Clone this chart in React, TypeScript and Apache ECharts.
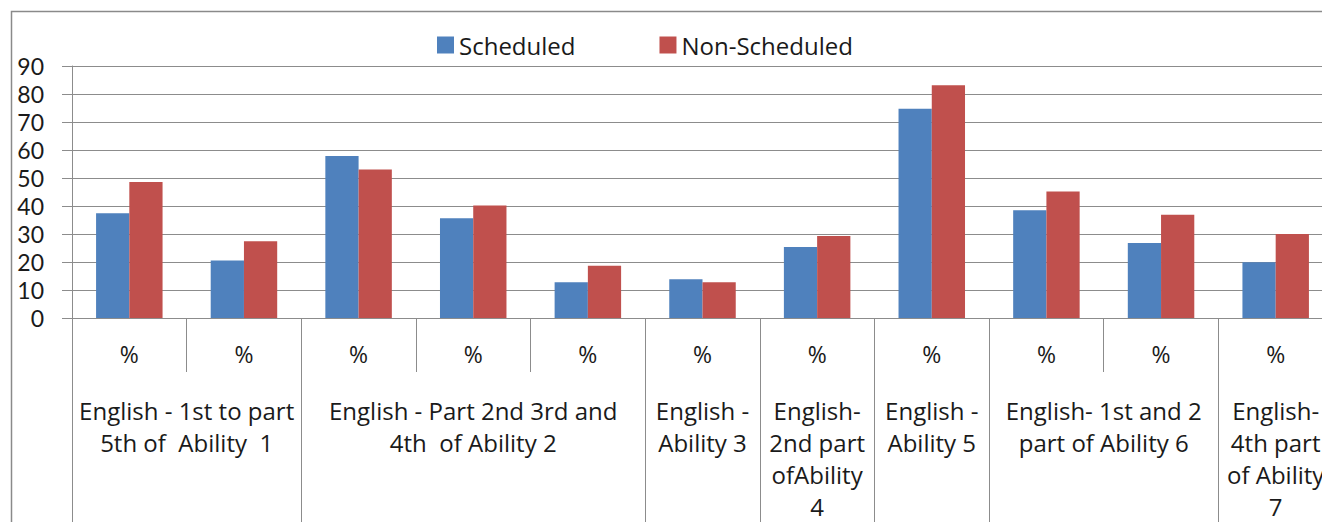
import React, { useEffect, useRef } from "react";
import * as echarts from "echarts";

const categories = ["%", "%", "%", "%", "%", "%", "%", "%", "%", "%", "%"];
const scheduled = [37.4, 20.5, 57.9, 35.6, 12.8, 13.8, 25.4, 74.7, 38.5, 26.8, 19.9];
const nonScheduled = [48.6, 27.4, 53.0, 40.2, 18.7, 12.8, 29.3, 83.1, 45.2, 36.9, 30.0];
const groupLabels = [
  "English - 1st to part\n5th of  Ability  1",
  "English - Part 2nd 3rd and\n4th  of Ability 2",
  "English -\nAbility 3",
  "English-\n2nd part\nofAbility\n4",
  "English -\nAbility 5",
  "English- 1st and 2\npart of Ability 6",
  "English-\n4th part\nof Ability\n7",
];
const groupSpans = [2, 3, 1, 1, 1, 2, 1];
const yTicks = { min: 0, max: 90, interval: 10 };

const FONT = "Open Sans";
const GRAY = "#8c8c8c";
const TEXT = "#1a1a1a";

// Build a half-category slot axis (2 slots per category, boundaryGap false)
const slotCount = categories.length * 2 + 1;
const slotLabels: string[] = new Array(slotCount).fill("");
const boundarySlots = new Set<number>([0]);
{
  let start = 0;
  groupSpans.forEach((span, i) => {
    const center = start * 2 + span;
    slotLabels[center] = groupLabels[i];
    start += span;
    boundarySlots.add(start * 2);
  });
}
const slotKeys = slotLabels.map((_l, i) => "s" + i);

export default function App() {
  const ref = useRef<HTMLDivElement>(null);
  useEffect(() => {
    if (!ref.current) return;
    const chart = echarts.init(ref.current, null, { renderer: "svg" });
    chart.setOption({
      animation: false,
      backgroundColor: "#ffffff",
      textStyle: { fontFamily: FONT },
      legend: {
        top: 28,
        left: 432,
        itemWidth: 17,
        itemHeight: 17,
        itemGap: 84,
        icon: "rect",
        textStyle: { fontFamily: FONT, fontSize: 24, color: TEXT },
        data: ["Scheduled", "Non-Scheduled"],
      },
      graphic: [
        {
          type: "rect",
          z: -10,
          shape: { x: 11.5, y: 11.5, width: 2000, height: 2000 },
          style: { fill: "none", stroke: "#8a8a8a", lineWidth: 1.5 },
        },
      ],
      grid: {
        left: 72,
        top: 66,
        right: -11,
        bottom: 204,
        containLabel: false,
        outerBoundsMode: "none",
      },
      xAxis: [
        {
          type: "category",
          data: categories,
          position: "bottom",
          axisLine: { show: true, lineStyle: { color: GRAY, width: 1 } },
          axisTick: { show: true, length: 54, interval: 0, lineStyle: { color: GRAY } },
          axisLabel: {
            interval: 0,
            margin: 24,
            fontFamily: FONT,
            fontSize: 23,
            color: TEXT,
          },
        },
        {
          type: "category",
          data: slotKeys,
          boundaryGap: false,
          position: "bottom",
          offset: 0,
          axisLine: { show: false },
          axisTick: {
            show: true,
            length: 260,
            interval: (index: number) => boundarySlots.has(index),
            lineStyle: { color: GRAY },
          },
          axisLabel: {
            interval: 0,
            margin: 76,
            fontFamily: FONT,
            fontSize: 24,
            lineHeight: 32,
            align: "center",
            color: TEXT,
            formatter: (_v: string, idx: number) => slotLabels[idx],
          },
        },
      ],
      yAxis: {
        type: "value",
        min: yTicks.min,
        max: yTicks.max,
        interval: yTicks.interval,
        axisLine: { show: true, lineStyle: { color: GRAY } },
        axisTick: { show: true, inside: false, length: 10, lineStyle: { color: GRAY } },
        axisLabel: { margin: 28, fontFamily: "Lato", fontSize: 23, color: TEXT },
        splitLine: { show: true, lineStyle: { color: GRAY, width: 1 } },
      },
      series: [
        {
          name: "Scheduled",
          type: "bar",
          data: scheduled,
          itemStyle: { color: "#4f81bd" },
          barGap: "0%",
          barCategoryGap: "42%",
        },
        {
          name: "Non-Scheduled",
          type: "bar",
          data: nonScheduled,
          itemStyle: { color: "#c0504d" },
          barGap: "0%",
          barCategoryGap: "42%",
        },
      ],
    });
    return () => chart.dispose();
  }, []);
  return (
    <div
      ref={ref}
      style={{ position: "absolute", left: 0, top: 0, width: 1322, height: 522, overflow: "hidden" }}
    />
  );
}
